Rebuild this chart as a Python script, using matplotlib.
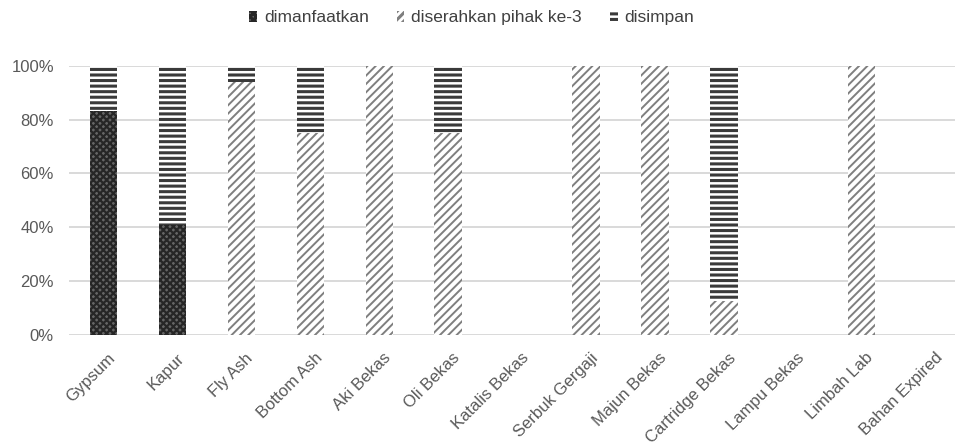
import numpy as np
import matplotlib.pyplot as plt
from matplotlib.transforms import ScaledTranslation

plt.rcParams["font.family"] = ["Liberation Sans", "DejaVu Sans"]

CATEGORIES = ["Gypsum", "Kapur", "Fly Ash", "Bottom Ash", "Aki Bekas", "Oli Bekas",
              "Katalis Bekas", "Serbuk Gergaji", "Majun Bekas", "Cartridge Bekas",
              "Lampu Bekas", "Limbah Lab", "Bahan Expired"]

# share of each waste stream (%)
DIMANFAATKAN = [83, 41, 0, 0, 0, 0, 0, 0, 0, 0, 0, 0, 0]
DISERAHKAN = [0, 0, 94, 75, 100, 75, 0, 100, 100, 12.5, 0, 100, 0]
DISIMPAN = [17, 59, 6, 25, 0, 25, 0, 0, 0, 87.5, 0, 0, 0]

# label, values, face colour, hatch colour, hatch, hatch linewidth
SERIES = [
    ("dimanfaatkan", DIMANFAATKAN, "#666666", "#262626", "xxxxx", 1.6),
    ("diserahkan pihak ke-3", DISERAHKAN, "white", "#7f7f7f", "////", 1.4),
    ("disimpan", DISIMPAN, "white", "#3a3a3a", "---", 2.2),
]

TEXT = "#595959"


def main():
    fig = plt.figure(figsize=(9.55, 4.44), dpi=100)
    ax = fig.add_axes([0.0725, 0.2455, 0.938, 0.6065])

    x = np.arange(len(CATEGORIES))
    bottom = np.zeros(len(CATEGORIES))
    for label, vals, fc, hc, hatch, hlw in SERIES:
        plt.rcParams["hatch.linewidth"] = hlw
        vals = np.array(vals, dtype=float)
        ax.bar(x, vals, width=0.4, bottom=bottom, color=fc, edgecolor=hc,
               linewidth=0, hatch=hatch, label=label, zorder=3)
        bottom += vals

    ax.set_xlim(-0.5, len(CATEGORIES) - 0.5)
    ax.set_ylim(0, 100)
    ax.set_yticks(np.arange(0, 101, 20))
    ax.set_yticklabels([f"{v}%" for v in range(0, 101, 20)])
    ax.set_xticks(x)
    ax.set_xticklabels(CATEGORIES, rotation=45, ha="right", rotation_mode="anchor")
    ax.tick_params(axis="both", length=0, labelsize=12, labelcolor=TEXT)
    ax.tick_params(axis="y", pad=11)
    ax.tick_params(axis="x", pad=11)
    shift = ScaledTranslation(4 / 100, 0, fig.dpi_scale_trans)
    for lbl in ax.get_xticklabels():
        lbl.set_transform(lbl.get_transform() + shift)
    ax.grid(axis="y", color="#d9d9d9", linewidth=1.4, zorder=0)
    ax.set_axisbelow(True)
    for s in ax.spines.values():
        s.set_visible(False)

    fig.legend(loc="center", bbox_to_anchor=(0.494, 0.96), ncol=3, frameon=False,
               fontsize=12.5, handlelength=0.45, handleheight=0.6,
               handletextpad=0.4, columnspacing=1.6, labelcolor="#404040")

    fig.savefig("out.png", dpi=100)


if __name__ == "__main__":
    main()
